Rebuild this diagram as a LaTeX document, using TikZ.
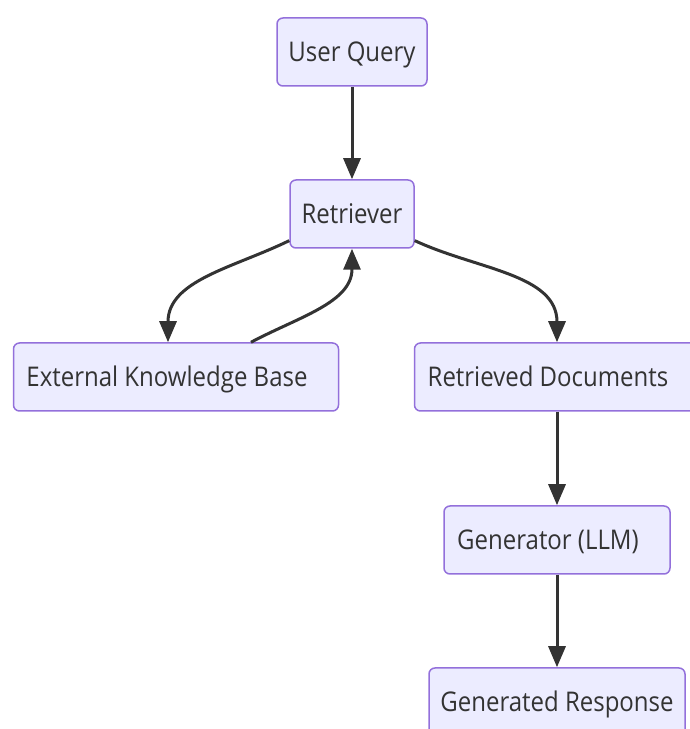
\documentclass[tikz,border=0pt]{standalone}
\usepackage{fontspec}
\setmainfont{Open Sans}
\usepackage{xcolor}
\usepackage{graphicx}
\usetikzlibrary{shapes, positioning, arrows.meta}

\definecolor{fondocaja}{HTML}{ECECFF}
\definecolor{bordecaja}{HTML}{9370DB}
\definecolor{gris}{HTML}{333333}

% texto algo estirado en vertical, como en la imagen
\newcommand{\rotulo}[1]{\scalebox{1}[1.13]{#1}}

\tikzset{
  caja/.style={draw=bordecaja, fill=fondocaja, line width=1.5pt, rounded corners=6pt,
    minimum height=68pt, inner sep=0pt, text height=19pt, text depth=0pt,
    text=gris, font=\fontsize{24}{28}\selectfont},
  flecha/.style={draw=gris, line width=3pt, -{Triangle[length=21pt,width=17pt]}}
}

\begin{document}
\begin{tikzpicture}[x=1pt,y=1pt]

% Marco de la imagen
\useasboundingbox (0,0) rectangle (689,729);

% Dibujar las cajas
\node[caja, minimum width=150pt] (consulta) at (352,677) {\rotulo{User Query}};  % Entrada
\node[caja, minimum width=124pt] (recuperador) at (352,515) {\rotulo{Retriever}};
\node[caja, minimum width=325pt] (base) at (176,352) {\rotulo{External Knowledge Base}\kern18pt};
\node[caja, minimum width=285pt] (documentos) at (557,352) {\rotulo{Retrieved Documents}\kern18pt};
\node[caja, minimum width=226pt] (generador) at (557,189) {\rotulo{Generator (LLM)}\kern18pt};
\node[caja, minimum width=256pt] (respuesta) at (557,27) {\rotulo{Generated Response}};  % Salida

% Dibujar las flechas
\draw[flecha] (consulta) -- (recuperador);
\draw[flecha] (recuperador.203) to[out=206, in=90] ([xshift=-8pt]base.north);
\draw[flecha] ([xshift=75pt]base.north) to[out=28, in=-90] (recuperador.south);
\draw[flecha] (recuperador.-23) to[out=-25, in=90] (documentos.north);
\draw[flecha] (documentos) -- (generador);
\draw[flecha] (generador) -- (respuesta);

\end{tikzpicture}
\end{document}
